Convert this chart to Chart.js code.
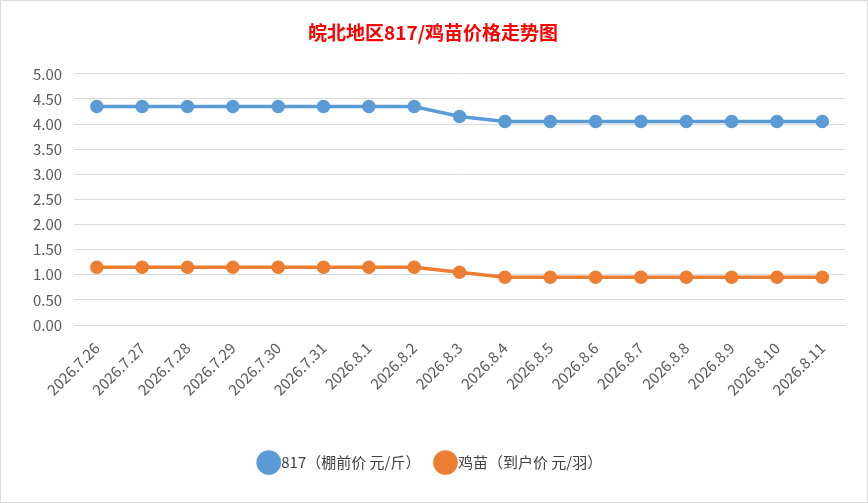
<!DOCTYPE html>
<html>
<head>
<meta charset="utf-8">
<script src="https://cdn.jsdelivr.net/npm/chart.js@4"></script>
<style>
  html, body { margin: 0; padding: 0; background: #fff; }
  #wrap { width: 866px; height: 501px; border: 1px solid #d9d9d9; position: relative; }
</style>
</head>
<body>
<div id="wrap"><canvas id="priceChart"></canvas></div>
<script>
const dates = ['2026.7.26','2026.7.27','2026.7.28','2026.7.29','2026.7.30','2026.7.31','2026.8.1','2026.8.2',
  '2026.8.3','2026.8.4','2026.8.5','2026.8.6','2026.8.7','2026.8.8','2026.8.9','2026.8.10','2026.8.11'];
const price817 = [4.35,4.35,4.35,4.35,4.35,4.35,4.35,4.35,4.15,4.05,4.05,4.05,4.05,4.05,4.05,4.05,4.05];
const chickPrice = [1.15,1.15,1.15,1.15,1.15,1.15,1.15,1.15,1.05,0.95,0.95,0.95,0.95,0.95,0.95,0.95,0.95];

const font = "'Noto Sans CJK SC', 'Liberation Sans', sans-serif";

new Chart(document.getElementById('priceChart'), {
  type: 'line',
  data: {
    labels: dates,
    datasets: [
      {
        label: '817（棚前价 元/斤）',
        data: price817,
        borderColor: '#5b9bd5',
        backgroundColor: '#5b9bd5',
        borderWidth: 3.5,
        pointRadius: 5,
        pointHoverRadius: 5,
        tension: 0
      },
      {
        label: '鸡苗（到户价 元/羽）',
        data: chickPrice,
        borderColor: '#ed7d31',
        backgroundColor: '#ed7d31',
        borderWidth: 3.5,
        pointRadius: 5,
        pointHoverRadius: 5,
        tension: 0
      }
    ]
  },
  options: {
    responsive: true,
    maintainAspectRatio: false,
    animation: false,
    layout: { padding: { left: 20, right: 22, top: 10, bottom: 22 } },
    plugins: {
      title: {
        display: true,
        text: '皖北地区817/鸡苗价格走势图',
        color: '#ff0000',
        font: { family: font, size: 19, weight: 'bold' },
        padding: { top: 10, bottom: 30 }
      },
      legend: {
        position: 'bottom',
        labels: {
          color: '#404040',
          font: { family: font, size: 15 },
          usePointStyle: true,
          pointStyle: 'circle',
          boxWidth: 10,
          padding: 20
        }
      },
      tooltip: { enabled: false }
    },
    scales: {
      x: {
        offset: true,
        grid: { display: false },
        border: { color: '#d9d9d9' },
        ticks: { color: '#595959', font: { family: font, size: 15 }, maxRotation: 45, minRotation: 45, padding: 6 },
        afterFit: s => { s.height = 110; }
      },
      y: {
        min: 0,
        max: 5,
        ticks: {
          stepSize: 0.5,
          color: '#595959',
          font: { family: font, size: 15 },
          padding: 12,
          callback: v => v.toFixed(2)
        },
        grid: { color: '#d9d9d9', drawTicks: false },
        border: { display: false }
      }
    }
  }
});
</script>
</body>
</html>
